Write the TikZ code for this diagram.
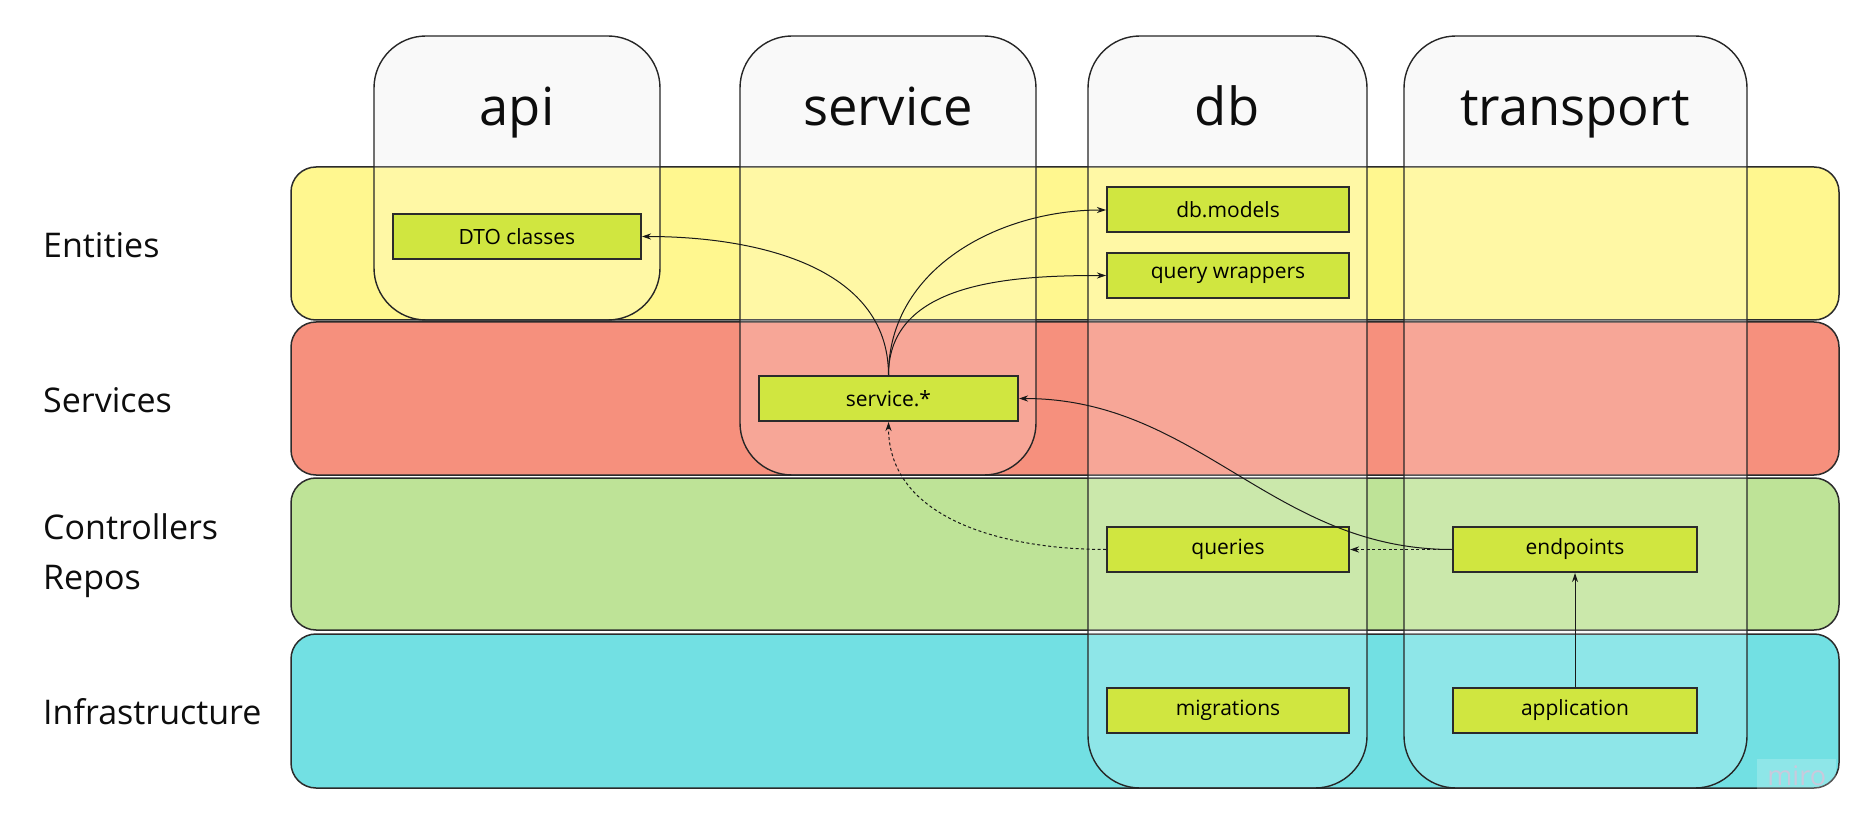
\documentclass[tikz,border=0pt]{standalone}
\usepackage{fontspec}
\setmainfont{Open Sans}
\usetikzlibrary{arrows.meta}
\definecolor{bandY}{HTML}{FFF78F}
\definecolor{bandR}{HTML}{F6907D}
\definecolor{bandG}{HTML}{BEE397}
\definecolor{bandC}{HTML}{72E0E3}
\definecolor{colgray}{HTML}{F8F8F8}
\definecolor{boxfill}{HTML}{D0E640}
\definecolor{edgec}{HTML}{2B2B2B}
\definecolor{wm}{HTML}{C9C9DC}
\begin{document}
\begin{tikzpicture}[x=1pt,y=-1pt,
  band/.style={draw=edgec, line width=1.5pt, rounded corners=25pt},
  colbg/.style={fill=colgray, rounded corners=52pt},
  colshape/.style={draw=black!85, line width=1.4pt, rounded corners=52pt, fill=white, fill opacity=0.2},
  item/.style={draw=edgec, line width=2pt, fill=boxfill, minimum height=45pt, inner sep=0pt, font=\fontsize{21}{24}\selectfont},
  lbl/.style={anchor=west, inner sep=0pt, font=\fontsize{34}{50}\selectfont, align=left, text=black!95},
  title/.style={anchor=base, inner sep=0pt, font=\fontsize{52.5}{60}\selectfont, text=black!95},
  conn/.style={line width=1pt, draw=black!90, -{Stealth[length=9pt,width=6pt]}},
  dconn/.style={conn, dash pattern=on 3pt off 2.5pt}
]
\useasboundingbox (0,0) rectangle (1872,834);
\fill[white] (0,0) rectangle (1872,834);
% column backgrounds
\path[colbg] (374,36) rectangle (660,320);
\path[colbg] (740,36) rectangle (1036,475);
\path[colbg] (1088,36) rectangle (1367,788);
\path[colbg] (1404,36) rectangle (1747,788);
% bands
\path[band, fill=bandY] (291,167) rectangle (1839,320);
\path[band, fill=bandR] (291,322) rectangle (1839,475);
\path[band, fill=bandG] (291,478) rectangle (1839,630);
\path[band, fill=bandC] (291,634) rectangle (1839,788);
% columns
\path[colshape] (374,36) rectangle (660,320);
\path[colshape] (740,36) rectangle (1036,475);
\path[colshape] (1088,36) rectangle (1367,788);
\path[colshape] (1404,36) rectangle (1747,788);
% titles
\node[title] (tapi) at (517,126) {api};
\node[title] (tsvc) at (888,126) {service};
\node[title] (tdb) at (1227,126) {db};
\node[title] (ttr) at (1575,126) {transport};
% layer labels
\node[lbl] (lent) at (43,245) {Entities};
\node[lbl] (lser) at (43,400) {Services};
\node[lbl] (lcon) at (43,556) {Controllers\\Repos};
\node[lbl] (linf) at (43,712) {Infrastructure};
% boxes
\node[item, minimum width=248pt] (dto) at (517,236.5) {DTO classes};
\node[item, minimum width=242pt] (dbm) at (1228,210) {db.models};
\node[item, minimum width=242pt] (qw) at (1228,275.5) {query wrappers};
\node[item, minimum width=259pt] (svc) at (888.5,398.5) {service.*};
\node[item, minimum width=242pt] (qr) at (1228,549.5) {queries};
\node[item, minimum width=244pt] (ep) at (1575,549.5) {endpoints};
\node[item, minimum width=242pt] (mig) at (1228,710.5) {migrations};
\node[item, minimum width=244pt] (app) at (1575,710.5) {application};
% connectors
\draw[conn] (svc.north) to[out=90,in=0] (dto.east);
\draw[conn] (svc.north) to[out=90,in=180] (dbm.west);
\draw[conn] (svc.north) to[out=90,in=180] (qw.west);
\draw[conn] (ep.west) to[out=180,in=0] (svc.east);
\draw[dconn] (ep.west) -- (qr.east);
\draw[dconn] (qr.west) to[out=180,in=-90] (svc.south);
\draw[conn] (app.north) -- (ep.south);
% watermark
\node[anchor=north west, fill=white, fill opacity=0.2, text opacity=1, text=wm, minimum width=79pt, minimum height=34pt, inner sep=0pt, font=\fontsize{27}{27}\selectfont] (miro) at (1757,759) {miro};
\end{tikzpicture}
\end{document}
